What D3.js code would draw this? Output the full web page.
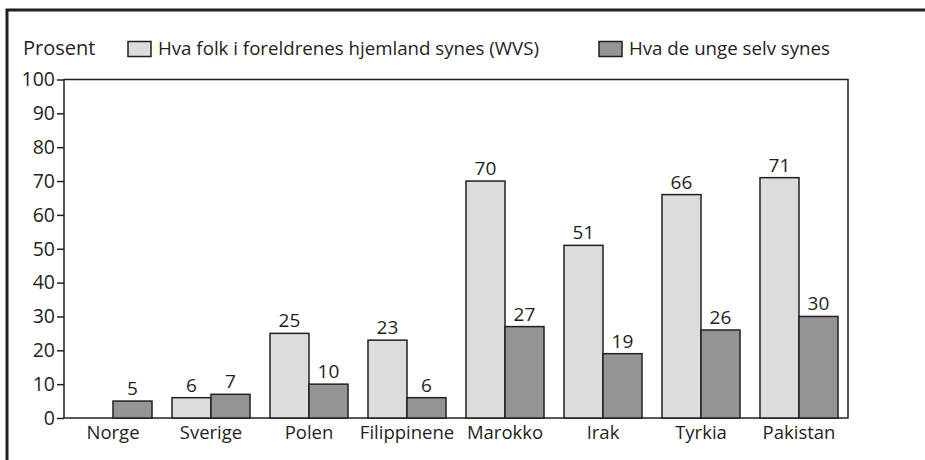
<!DOCTYPE html>
<meta charset="utf-8">

<head>
    <script src="https://d3js.org/d3.v7.min.js"></script>
    <style>
        body {
            margin: 0;
            background: white;
        }
        text {
            font-family: "Open Sans", "Noto Sans", sans-serif;
            fill: #231f20;
        }
    </style>
</head>

<body>
    <div id="chart"></div>

    <script>
        // data
        var countries = ["Norge", "Sverige", "Polen", "Filippinene", "Marokko", "Irak", "Tyrkia", "Pakistan"];
        var parentsValues = [0, 6, 25, 23, 70, 51, 66, 71];
        var youthValues = [5, 7, 10, 6, 27, 19, 26, 30];
        var seriesNames = ["Hva folk i foreldrenes hjemland synes (WVS)", "Hva de unge selv synes"];
        var yTicks = [0, 10, 20, 30, 40, 50, 60, 70, 80, 90, 100];
        var yTitle = "Prosent";

        var width = 925,
            height = 460;
        var margin = {
            top: 79.5,
            right: 77,
            bottom: 42,
            left: 64
        };
        var colors = ["#dcdcde", "#959597"];
        var stroke = "#231f20";

        var svg = d3.select("#chart").append("svg")
            .attr("width", width)
            .attr("height", height);

        // outer frame (cut at right and bottom)
        svg.append("path")
            .attr("d", "M7," + height + "V10H" + width)
            .attr("fill", "none")
            .attr("stroke", stroke)
            .attr("stroke-width", 3);

        // scales
        var x0 = d3.scaleBand()
            .domain(countries)
            .range([margin.left, width - margin.right])
            .paddingInner(0.204)
            .paddingOuter(0.102);
        var x1 = d3.scaleBand()
            .domain([0, 1])
            .range([0, x0.bandwidth()]);
        var y = d3.scaleLinear()
            .domain([0, 100])
            .range([height - margin.bottom, margin.top]);

        // plot box
        svg.append("rect")
            .attr("x", margin.left)
            .attr("y", y(100))
            .attr("width", width - margin.right - margin.left)
            .attr("height", y(0) - y(100))
            .attr("fill", "none")
            .attr("stroke", stroke)
            .attr("stroke-width", 1.5);

        // y axis
        var yAxis = svg.append("g")
            .attr("transform", "translate(" + margin.left + ",0)")
            .call(d3.axisLeft(y).tickValues(yTicks).tickSize(7).tickPadding(2));
        yAxis.select(".domain").remove();
        yAxis.selectAll("line").attr("stroke", stroke).attr("stroke-width", 1.5);
        yAxis.selectAll("text")
            .attr("font-size", 19.5)
            .attr("font-family", "'Open Sans', sans-serif")
            .attr("fill", stroke);

        // bars
        var groups = svg.append("g")
            .selectAll("g")
            .data(countries)
            .enter()
            .append("g")
            .attr("transform", function(d) {
                return "translate(" + x0(d) + ",0)";
            });

        [parentsValues, youthValues].forEach(function(values, s) {
            groups.each(function(c, i) {
                var v = values[i];
                if (v === 0) return;
                var g = d3.select(this);
                g.append("rect")
                    .attr("x", x1(s))
                    .attr("y", y(v))
                    .attr("width", x1.bandwidth())
                    .attr("height", y(0) - y(v))
                    .attr("fill", colors[s])
                    .attr("stroke", stroke)
                    .attr("stroke-width", 1.5);
                g.append("text")
                    .attr("x", x1(s) + x1.bandwidth() / 2)
                    .attr("y", y(v) - 6)
                    .attr("text-anchor", "middle")
                    .attr("font-size", 19)
                    .text(v);
            });
        });

        // category labels
        svg.append("g")
            .selectAll("text")
            .data(countries)
            .enter()
            .append("text")
            .attr("x", function(d) {
                return x0(d) + x0.bandwidth() / 2;
            })
            .attr("y", y(0) + 21)
            .attr("text-anchor", "middle")
            .attr("font-size", 18.5)
            .text(function(d) {
                return d;
            });

        // title and legend
        svg.append("text")
            .attr("x", 23)
            .attr("y", 55)
            .attr("font-size", 20)
            .text(yTitle);

        var legendX = [128, 599];
        seriesNames.forEach(function(name, s) {
            svg.append("rect")
                .attr("x", legendX[s])
                .attr("y", 41.5)
                .attr("width", 23)
                .attr("height", 15)
                .attr("fill", colors[s])
                .attr("stroke", stroke)
                .attr("stroke-width", 1.5);
            svg.append("text")
                .attr("x", legendX[s] + 30)
                .attr("y", 55)
                .attr("font-size", 18.7)
                .text(name);
        });
    </script>
</body>

</html>
